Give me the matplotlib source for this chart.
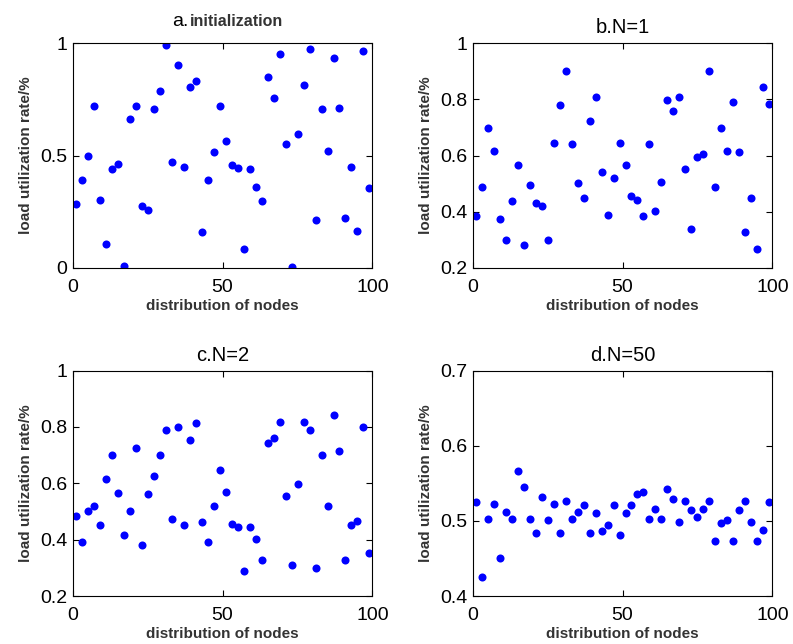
import matplotlib
matplotlib.use("Agg")
import matplotlib.pyplot as plt
from matplotlib.ticker import FuncFormatter

# node positions (odd indices 1..99)
nodes = list(range(1, 100, 2))

# load utilization at initialization
load_init = [0.283, 0.391, 0.499, 0.72, 0.304, 0.105, 0.441, 0.462, 0.01, 0.661,
             0.72, 0.274, 0.259, 0.705, 0.787, 0.99, 0.471, 0.902, 0.45, 0.807,
             0.83, 0.159, 0.391, 0.516, 0.72, 0.566, 0.456, 0.444, 0.084, 0.441,
             0.361, 0.296, 0.85, 0.757, 0.953, 0.551, 0.004, 0.596, 0.815, 0.975,
             0.215, 0.705, 0.521, 0.932, 0.713, 0.224, 0.449, 0.164, 0.967, 0.354]

# after N=1
load_n1 = [0.384, 0.489, 0.698, 0.617, 0.373, 0.298, 0.437, 0.565, 0.280, 0.495,
           0.431, 0.419, 0.298, 0.646, 0.779, 0.902, 0.640, 0.501, 0.448, 0.722,
           0.809, 0.541, 0.390, 0.519, 0.646, 0.565, 0.455, 0.443, 0.384, 0.640,
           0.402, 0.507, 0.797, 0.757, 0.809, 0.553, 0.338, 0.594, 0.606, 0.902,
           0.489, 0.698, 0.617, 0.791, 0.611, 0.327, 0.449, 0.268, 0.843, 0.785]

# after N=2
load_n2 = [0.485, 0.392, 0.503, 0.521, 0.451, 0.614, 0.702, 0.567, 0.415, 0.503,
           0.725, 0.380, 0.561, 0.626, 0.702, 0.789, 0.473, 0.801, 0.451, 0.754,
           0.813, 0.462, 0.392, 0.521, 0.649, 0.568, 0.457, 0.445, 0.288, 0.445,
           0.404, 0.329, 0.743, 0.760, 0.819, 0.555, 0.310, 0.596, 0.819, 0.789,
           0.299, 0.702, 0.521, 0.841, 0.714, 0.329, 0.451, 0.467, 0.801, 0.351]

# after N=50
load_n50 = [0.525, 0.425, 0.503, 0.523, 0.451, 0.512, 0.503, 0.566, 0.545, 0.503,
            0.484, 0.532, 0.501, 0.523, 0.484, 0.527, 0.503, 0.512, 0.521, 0.484,
            0.510, 0.486, 0.494, 0.521, 0.481, 0.510, 0.521, 0.536, 0.538, 0.503,
            0.516, 0.503, 0.543, 0.529, 0.499, 0.527, 0.514, 0.505, 0.516, 0.527,
            0.473, 0.497, 0.501, 0.473, 0.514, 0.527, 0.499, 0.473, 0.488, 0.525]

titles = ["b.N=1", "c.N=2", "d.N=50"]
yticks = [[0, 0.5, 1], [0.2, 0.4, 0.6, 0.8, 1], [0.2, 0.4, 0.6, 0.8, 1], [0.4, 0.5, 0.6, 0.7]]
ylims = [(0, 1), (0.2, 1), (0.2, 1), (0.4, 0.7)]

plt.rcParams["font.family"] = ["Liberation Sans", "DejaVu Sans"]

fig = plt.figure(figsize=(7.93, 6.44), dpi=100)
positions = [[0.0917, 0.584, 0.378, 0.349],
             [0.596, 0.584, 0.378, 0.349],
             [0.0917, 0.0745, 0.378, 0.350],
             [0.596, 0.0745, 0.378, 0.350]]
series = [load_init, load_n1, load_n2, load_n50]

fmt = FuncFormatter(lambda v, p: "%g" % v)

for i, ax_pos in enumerate(positions):
    ax = fig.add_axes(ax_pos)
    ax.plot(nodes, series[i], "o", color="#0000ff", markersize=5.8, markeredgewidth=0)
    ax.set_xlim(0, 100)
    ax.set_ylim(*ylims[i])
    ax.set_xticks([0, 50, 100])
    ax.set_yticks(yticks[i])
    ax.xaxis.set_major_formatter(fmt)
    ax.yaxis.set_major_formatter(fmt)
    ax.tick_params(direction="in", top=True, right=True, length=4, width=0.8,
                   labelsize=14)
    ax.tick_params(axis="x", pad=8)
    ax.tick_params(axis="y", pad=4)
    for s in ax.spines.values():
        s.set_linewidth(0.8)
    ax.set_xlabel("distribution of nodes", fontsize=11, fontweight="bold",
                  color="#333333", labelpad=2)
    ax.set_ylabel("load utilization rate/%", fontsize=11, fontweight="bold",
                  color="#333333", labelpad=5)
    if i == 0:
        ax.text(0.385, 1.075, "a.", transform=ax.transAxes, ha="right",
                va="baseline", fontsize=14)
        ax.text(0.39, 1.075, "initialization", transform=ax.transAxes, ha="left",
                va="baseline", fontsize=11.5, fontweight="bold", color="#333333")
    else:
        ax.set_title(titles[i - 1], fontsize=14.5, pad=7)

fig.savefig("out.png", dpi=100)
